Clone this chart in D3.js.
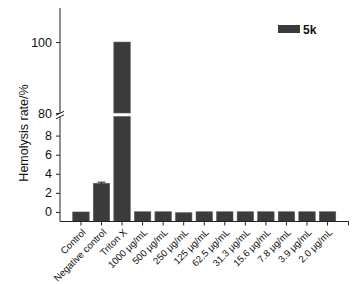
<!DOCTYPE html>
<html><head><meta charset="utf-8">
<script src="https://cdn.jsdelivr.net/npm/d3@7/dist/d3.min.js"></script>
<style>body{margin:0;background:#fff}svg{display:block}text{font-family:"Liberation Sans",Arial,sans-serif;fill:#111}</style>
</head><body><svg id="c" width="362" height="284"></svg>
<script>
const categories = ["Control","Negative control","Triton X","1000 \u03bcg/mL","500 \u03bcg/mL","250 \u03bcg/mL","125 \u03bcg/mL","62.5 \u03bcg/mL","31.3 \u03bcg/mL","15.6 \u03bcg/mL","7.8 \u03bcg/mL","3.9 \u03bcg/mL","2.0 \u03bcg/mL"];
const values = [0.0, 3.0, 100, 0.02, 0.02, -0.08, 0.02, 0.02, 0.02, 0.02, 0.02, 0.02, 0.02];
const errors = [0, 0.12, 0, 0, 0, 0, 0, 0, 0, 0, 0, 0, 0];
const lowerTicks = [0, 2, 4, 6, 8];
const upperTicks = [80, 100];
const seriesName = "5k";

const svg = d3.select("#c");
const barColor = "#3b3b3b";
const x0 = 60, x1 = 348.5, axisY = 221.5;

const x = d3.scaleBand().domain(categories).range([x0, x1]).paddingInner(0.2).paddingOuter(0.62);
const yL = d3.scaleLinear().domain([-1, 10]).range([axisY, 116.5]);
const yU = d3.scaleLinear().domain([80, 109.6]).range([113, 8]);

const g = svg.append("g");

// bars
categories.forEach((c, i) => {
  const v = values[i];
  const bx = x(c), bw = x.bandwidth();
  if (v <= 10) {
    g.append("rect").attr("x", bx).attr("width", bw)
      .attr("y", yL(v)).attr("height", yL(-1) - yL(v))
      .attr("fill", barColor).attr("stroke", "#5a5a5a").attr("stroke-width", 0.6);
  } else {
    g.append("rect").attr("x", bx).attr("width", bw)
      .attr("y", yL(10)).attr("height", yL(-1) - yL(10))
      .attr("fill", barColor).attr("stroke", "#5a5a5a").attr("stroke-width", 0.6);
    g.append("rect").attr("x", bx).attr("width", bw)
      .attr("y", yU(v)).attr("height", yU(80) - yU(v))
      .attr("fill", barColor).attr("stroke", "#5a5a5a").attr("stroke-width", 0.6);
  }
  if (errors[i] > 0) {
    const cx = bx + bw / 2;
    g.append("line").attr("x1", cx).attr("x2", cx).attr("y1", yL(v - errors[i])).attr("y2", yL(v + errors[i])).attr("stroke", "#222");
    g.append("line").attr("x1", cx - 4).attr("x2", cx + 4).attr("y1", yL(v + errors[i])).attr("y2", yL(v + errors[i])).attr("stroke", "#222");
  }
});

// y axes
const axU = d3.axisLeft(yU).tickValues(upperTicks).tickSize(4).tickSizeOuter(0);
const axL = d3.axisLeft(yL).tickValues(lowerTicks).tickSize(4).tickSizeOuter(0);
const gu = svg.append("g").attr("transform", `translate(${x0},0)`).call(axU);
const gl = svg.append("g").attr("transform", `translate(${x0},0)`).call(axL);
[gu, gl].forEach(a => {
  a.select(".domain").remove();
  a.selectAll("line").attr("stroke", "#222");
  a.selectAll("text").attr("font-size", 12.5).attr("font-family", "Liberation Sans, Arial, sans-serif").attr("fill", "#111").attr("x", -8);
});
svg.append("line").attr("x1", x0).attr("x2", x0).attr("y1", yU(109.6)).attr("y2", yU(80)).attr("stroke", "#222");
svg.append("line").attr("x1", x0).attr("x2", x0).attr("y1", yL(10)).attr("y2", axisY).attr("stroke", "#222");
// break marks
[yU(80) + 0.3, yL(10) + 0.3].forEach(yy => {
  svg.append("line").attr("x1", x0 - 4).attr("x2", x0 + 4).attr("y1", yy + 2).attr("y2", yy - 2).attr("stroke", "#222");
});

// x axis
const gx = svg.append("g").attr("transform", `translate(0,${axisY})`);
gx.append("line").attr("x1", x0).attr("x2", x1).attr("y1", 0).attr("y2", 0).attr("stroke", "#222");
const tickPos = categories.map(c => x(c) + x.bandwidth() / 2).concat([x1]);
gx.selectAll(".tk").data(tickPos).enter().append("line")
  .attr("x1", d => d).attr("x2", d => d).attr("y1", 0).attr("y2", 4).attr("stroke", "#222");
gx.selectAll(".lb").data(categories).enter().append("text")
  .attr("transform", d => `translate(${x(d) + x.bandwidth() / 2 + 3},${9}) rotate(-45)`)
  .attr("text-anchor", "end").attr("font-size", 9.6).attr("dy", "0.35em").text(d => d);

// y label
svg.append("text").attr("transform", "translate(28,133) rotate(-90)")
  .attr("text-anchor", "middle").attr("font-size", 12.5).text("Hemolysis rate/%");

// legend
svg.append("rect").attr("x", 278).attr("y", 25).attr("width", 22).attr("height", 8).attr("fill", barColor);
svg.append("text").attr("x", 303).attr("y", 33.5).attr("font-size", 12).attr("font-weight", "bold").text(seriesName);
</script></body></html>
